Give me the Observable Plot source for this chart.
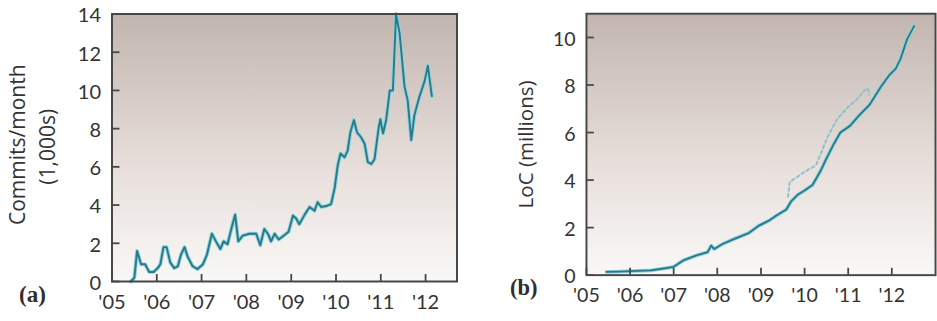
<!DOCTYPE html>
<html>
<head>
<meta charset="utf-8">
<script src="https://cdn.jsdelivr.net/npm/d3@7"></script>
<script src="https://cdn.jsdelivr.net/npm/@observablehq/plot@0.6"></script>
<style>
  html, body { margin: 0; padding: 0; background: #ffffff; }
  body { width: 937px; height: 321px; overflow: hidden; position: relative; }
  #a, #b { position: absolute; top: 0; }
  #a { left: 0; }
  #b { left: 467px; }
  svg { overflow: visible; }
</style>
</head>
<body>
<div id="a"></div>
<div id="b"></div>
<script>
// ---- Data ----
const commitYears = [2005.42, 2005.50, 2005.56, 2005.65, 2005.74, 2005.83, 2005.93,
  2006.02, 2006.08, 2006.15, 2006.22, 2006.30, 2006.39, 2006.47, 2006.54, 2006.62, 2006.69, 2006.80, 2006.91,
  2007.03, 2007.12, 2007.23, 2007.32, 2007.42, 2007.49, 2007.58, 2007.67, 2007.75, 2007.82, 2007.92,
  2008.07, 2008.22, 2008.31, 2008.40, 2008.48, 2008.55, 2008.63, 2008.72, 2008.83, 2008.94,
  2009.04, 2009.11, 2009.18, 2009.30, 2009.41, 2009.52, 2009.59, 2009.67, 2009.78, 2009.89, 2009.97,
  2010.04, 2010.10, 2010.19, 2010.26, 2010.32, 2010.40, 2010.47, 2010.56, 2010.64, 2010.71, 2010.79, 2010.86, 2010.95, 2010.99,
  2011.05, 2011.12, 2011.20, 2011.27, 2011.34, 2011.42, 2011.53, 2011.60, 2011.68, 2011.75, 2011.86, 2011.98,
  2012.05, 2012.14];
const commitValues = [0, 0.2, 1.6, 0.9, 0.9, 0.5, 0.5,
  0.7, 0.9, 1.8, 1.8, 1.0, 0.7, 0.8, 1.4, 1.8, 1.3, 0.8, 0.65,
  0.9, 1.4, 2.5, 2.1, 1.7, 2.1, 1.95, 2.8, 3.5, 2.1, 2.4,
  2.5, 2.5, 1.9, 2.75, 2.5, 2.1, 2.5, 2.2, 2.4, 2.6,
  3.45, 3.3, 3.0, 3.5, 3.9, 3.7, 4.15, 3.9, 3.95, 4.05, 4.9,
  6.1, 6.7, 6.5, 6.85, 7.8, 8.45, 7.8, 7.55, 7.2, 6.25, 6.15, 6.4, 8.0, 8.5,
  7.75, 8.45, 10.0, 10.0, 14.0, 13.0, 10.2, 9.5, 7.4, 8.7, 9.65, 10.5,
  11.3, 9.7];

const locYears = [2005.46, 2005.75, 2006.02, 2006.47, 2006.77, 2007.0, 2007.22, 2007.52, 2007.78, 2007.86, 2007.93,
  2008.12, 2008.42, 2008.72, 2008.94, 2009.17, 2009.39, 2009.58, 2009.69, 2009.84, 2009.99,
  2010.18, 2010.29, 2010.37, 2010.48, 2010.67, 2010.82, 2011.04, 2011.27, 2011.49, 2011.75, 2011.94,
  2012.09, 2012.2, 2012.35, 2012.51];
const locValues = [0.14, 0.15, 0.17, 0.2, 0.28, 0.35, 0.62, 0.83, 0.97, 1.24, 1.1,
  1.31, 1.55, 1.77, 2.07, 2.28, 2.55, 2.76, 3.1, 3.38, 3.55,
  3.79, 4.14, 4.4, 4.83, 5.52, 6.0, 6.28, 6.76, 7.17, 7.93, 8.41,
  8.69, 9.1, 9.93, 10.48];

const altYears = [2009.62, 2009.66, 2009.84, 2009.99, 2010.26, 2010.37, 2010.52, 2010.74, 2010.97, 2011.19, 2011.38, 2011.45, 2011.48];
const altValues = [3.3, 3.93, 4.14, 4.34, 4.62, 5.1, 5.79, 6.55, 7.03, 7.38, 7.79, 7.86, 7.6];

const yearTicks = [2005, 2006, 2007, 2008, 2009, 2010, 2011, 2012];
const yearLabels = ["'05", "'06", "'07", "'08", "'09", "'10", "'11", "'12"];
const commitTicks = [0, 2, 4, 6, 8, 10, 12, 14];
const locTicks = [0, 2, 4, 6, 8, 10];

// ---- helpers ----
function toDate(y) {
  const yr = Math.floor(y);
  const start = Date.UTC(yr, 0, 1), end = Date.UTC(yr + 1, 0, 1);
  return new Date(start + (y - yr) * (end - start));
}
const series = (xs, vs) => xs.map((x, i) => ({date: toDate(x), value: vs[i]}));
const commits = series(commitYears, commitValues);
const loc = series(locYears, locValues);
const locAlt = series(altYears, altValues);
const tickDates = yearTicks.map(toDate);
const labelOf = new Map(tickDates.map((d, i) => [+d, yearLabels[i]]));

const FONT = "Lato, 'Open Sans', sans-serif";
const TITLE_FONT = "'Open Sans', Lato, sans-serif";
const TEXT = "#333333";
const FRAME = "#474747";
const HALO = "#8fd2da";
const CORE = "#287a8a";

function addGradient(svg, id) {
  const defs = d3.select(svg).insert("defs", ":first-child");
  const g = defs.append("linearGradient").attr("id", id)
    .attr("x1", 0).attr("y1", 0).attr("x2", 0).attr("y2", 1);
  g.append("stop").attr("offset", "0%").attr("stop-color", "#c2b5af");
  g.append("stop").attr("offset", "55%").attr("stop-color", "#e6ddd9");
  g.append("stop").attr("offset", "100%").attr("stop-color", "#f9f8f7");
}

function panel({width, marginLeft, marginRight, marginTop, marginBottom, xEnd, yMax, yTicks, lines, titles, tag, tagDx, gid}) {
  const height = 321;
  const marks = [
    Plot.frame({fill: `url(#${gid})`, stroke: null}),
    ...lines,
    // inward-pointing tick marks (axis ticks shifted inside the frame)
    Plot.axisX(tickDates, {tickSize: 7, dy: -7, tickFormat: () => "", stroke: FRAME, strokeWidth: 1.8, label: null}),
    Plot.axisY(yTicks, {tickSize: 8, dx: 8, tickFormat: () => "", stroke: FRAME, strokeWidth: 1.8, label: null}),
    Plot.frame({stroke: FRAME, strokeWidth: 2}),
    Plot.axisX(tickDates, {tickSize: 0, tickPadding: 13, tickFormat: d => labelOf.get(+d), fontSize: 20, fill: TEXT, fontFamily: FONT, label: null}),
    Plot.axisY(yTicks, {tickSize: 0, tickPadding: 11, dy: 2, fontSize: 20, fill: TEXT, fontFamily: FONT, label: null}),
    ...titles.map(t => Plot.text([t.text], {frameAnchor: "left", text: d => d, rotate: -90, dx: t.x - marginLeft, dy: t.dy, fontSize: 21, fill: TEXT, fontFamily: TITLE_FONT, textAnchor: "middle"})),
    Plot.text([tag], {frameAnchor: "bottom-left", text: d => d, dx: tagDx, dy: 20, fontSize: 23, fontWeight: "bold", fill: "#2e2e2e", fontFamily: "'Liberation Serif', 'DejaVu Serif', serif", textAnchor: "middle"})
  ];
  const svg = Plot.plot({
    width, height, marginLeft, marginRight, marginTop, marginBottom,
    style: {background: "transparent", overflow: "visible"},
    x: {type: "utc", domain: [toDate(2005), toDate(xEnd)], axis: null},
    y: {domain: [0, yMax], axis: null},
    marks
  });
  addGradient(svg, gid);
  return svg;
}

const lineA = [
  Plot.line(commits, {x: "date", y: "value", stroke: HALO, strokeWidth: 3.8}),
  Plot.line(commits, {x: "date", y: "value", stroke: CORE, strokeWidth: 1.9})
];
document.getElementById("a").append(panel({
  width: 467, marginLeft: 111.5, marginRight: 10.5, marginTop: 13.5, marginBottom: 40,
  xEnd: 2012.7, yMax: 14, yTicks: commitTicks, lines: lineA,
  titles: [{text: "Commits/month", x: 18, dy: -3}, {text: "(1,000s)", x: 48, dy: -1}],
  tag: "(a)", tagDx: 32 - 111.5, gid: "gradA"
}));

const lineB = [
  Plot.line(locAlt, {x: "date", y: "value", stroke: "#86c3cf", strokeWidth: 2, strokeDasharray: "3,3"}),
  Plot.line(loc, {x: "date", y: "value", stroke: HALO, strokeWidth: 3.8}),
  Plot.line(loc, {x: "date", y: "value", stroke: CORE, strokeWidth: 1.9})
];
document.getElementById("b").append(panel({
  width: 480, marginLeft: 121.5, marginRight: 2, marginTop: 13.5, marginBottom: 40.5,
  xEnd: 2013, yMax: 11, yTicks: locTicks, lines: lineB,
  titles: [{text: "LoC (millions)", x: 60, dy: 0}],
  tag: "(b)", tagDx: 57.5 - 121.5, gid: "gradB"
}));
</script>
</body>
</html>
